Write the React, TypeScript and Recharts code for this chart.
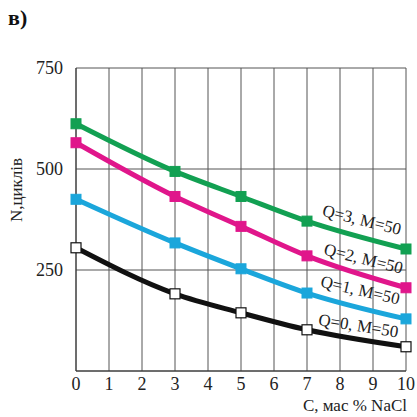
import React from 'react';
import { LineChart, Line, XAxis, YAxis, CartesianGrid, ReferenceDot } from 'recharts';

// C, мас % NaCl
const concentrations = [0, 3, 5, 7, 10];
const q0 = [305, 191, 144, 102, 60];
const q1 = [425, 317, 253, 193, 129];
const q2 = [565, 432, 358, 285, 206];
const q3 = [612, 494, 432, 371, 302];

const xTicks = [0, 1, 2, 3, 4, 5, 6, 7, 8, 9, 10];
const yTicks = [250, 500, 750];

const seriesKeys = ['q0', 'q1', 'q2', 'q3'];
const seriesColors = ['#111111', '#1ba6db', '#e0168b', '#12a052'];
const labelTexts = ['Q=0, M=50', 'Q=1, M=50', 'Q=2, M=50', 'Q=3, M=50'];
const labelX = [8.55, 8.6, 8.7, 8.65];
const labelY = [108, 196, 274, 370];
const labelAngle = [9, 13, 14, 14];

const data = concentrations.map((c, i) => ({ c, q0: q0[i], q1: q1[i], q2: q2[i], q3: q3[i] }));

const FONT = '"Liberation Serif", "Times New Roman", serif';

const squareDot = (color: string, open: boolean) => (p: any) => (
  <rect
    key={`dot-${color}-${p.index}`}
    x={p.cx - 5}
    y={p.cy - 5}
    width={10}
    height={10}
    fill={open ? '#ffffff' : color}
    stroke={open ? '#111111' : color}
    strokeWidth={open ? 1.2 : 1}
  />
);

const lineLabel = (text: string, angle: number) => (props: any) => {
  const vb = props.viewBox || {};
  const x = vb.x + (vb.width || 0) / 2;
  const y = vb.y + (vb.height || 0) / 2;
  return (
    <text
      x={x}
      y={y}
      transform={`rotate(${angle} ${x} ${y})`}
      textAnchor="middle"
      dominantBaseline="middle"
      fontFamily={FONT}
      fontSize={17}
      fill="#222"
    >
      {text}
    </text>
  );
};

const App = () => {
  return (
    <div style={{ position: 'absolute', left: 0, top: 0, width: 417, height: 417, background: '#fff', fontFamily: FONT }}>
      <div style={{ position: 'absolute', left: 8, top: 5, fontSize: 22, fontWeight: 'bold', color: '#111' }}>в)</div>
      <div
        style={{
          position: 'absolute',
          left: 17,
          top: 190,
          transform: 'translate(-50%, -50%) rotate(-90deg)',
          fontSize: 17,
          color: '#222',
          whiteSpace: 'nowrap',
        }}
      >
        N,циклів
      </div>
      <div style={{ position: 'absolute', right: 10, top: 396, fontSize: 17, color: '#222', whiteSpace: 'nowrap' }}>
        C, мас % NaCl
      </div>
      <LineChart
        width={417}
        height={417}
        data={data}
        margin={{ top: 68, right: 11, left: 0, bottom: 0 }}
        style={{ fontFamily: FONT }}
      >
        <CartesianGrid stroke="#555" strokeWidth={1} />
        <XAxis
          dataKey="c"
          type="number"
          domain={[0, 10]}
          ticks={xTicks}
          interval={0}
          height={46}
          tickSize={0}
          tickMargin={6}
          stroke="#333"
          tick={{ fontFamily: FONT, fontSize: 18, fill: '#222' }}
        />
        <YAxis
          type="number"
          domain={[0, 750]}
          ticks={yTicks}
          width={76}
          tickSize={0}
          tickMargin={13}
          stroke="#333"
          tick={{ fontFamily: FONT, fontSize: 18, fill: '#222' }}
        />
        {seriesKeys.map((k, i) => (
          <Line
            key={k}
            dataKey={k}
            type="monotone"
            stroke={seriesColors[i]}
            strokeWidth={5}
            dot={squareDot(seriesColors[i], i === 0)}
            activeDot={false}
            isAnimationActive={false}
          />
        ))}
        {labelTexts.map((t, i) => (
          <ReferenceDot
            key={t}
            x={labelX[i]}
            y={labelY[i]}
            r={1}
            fill="none"
            stroke="none"
            label={lineLabel(t, labelAngle[i])}
          />
        ))}
      </LineChart>
    </div>
  );
};

export default App;
